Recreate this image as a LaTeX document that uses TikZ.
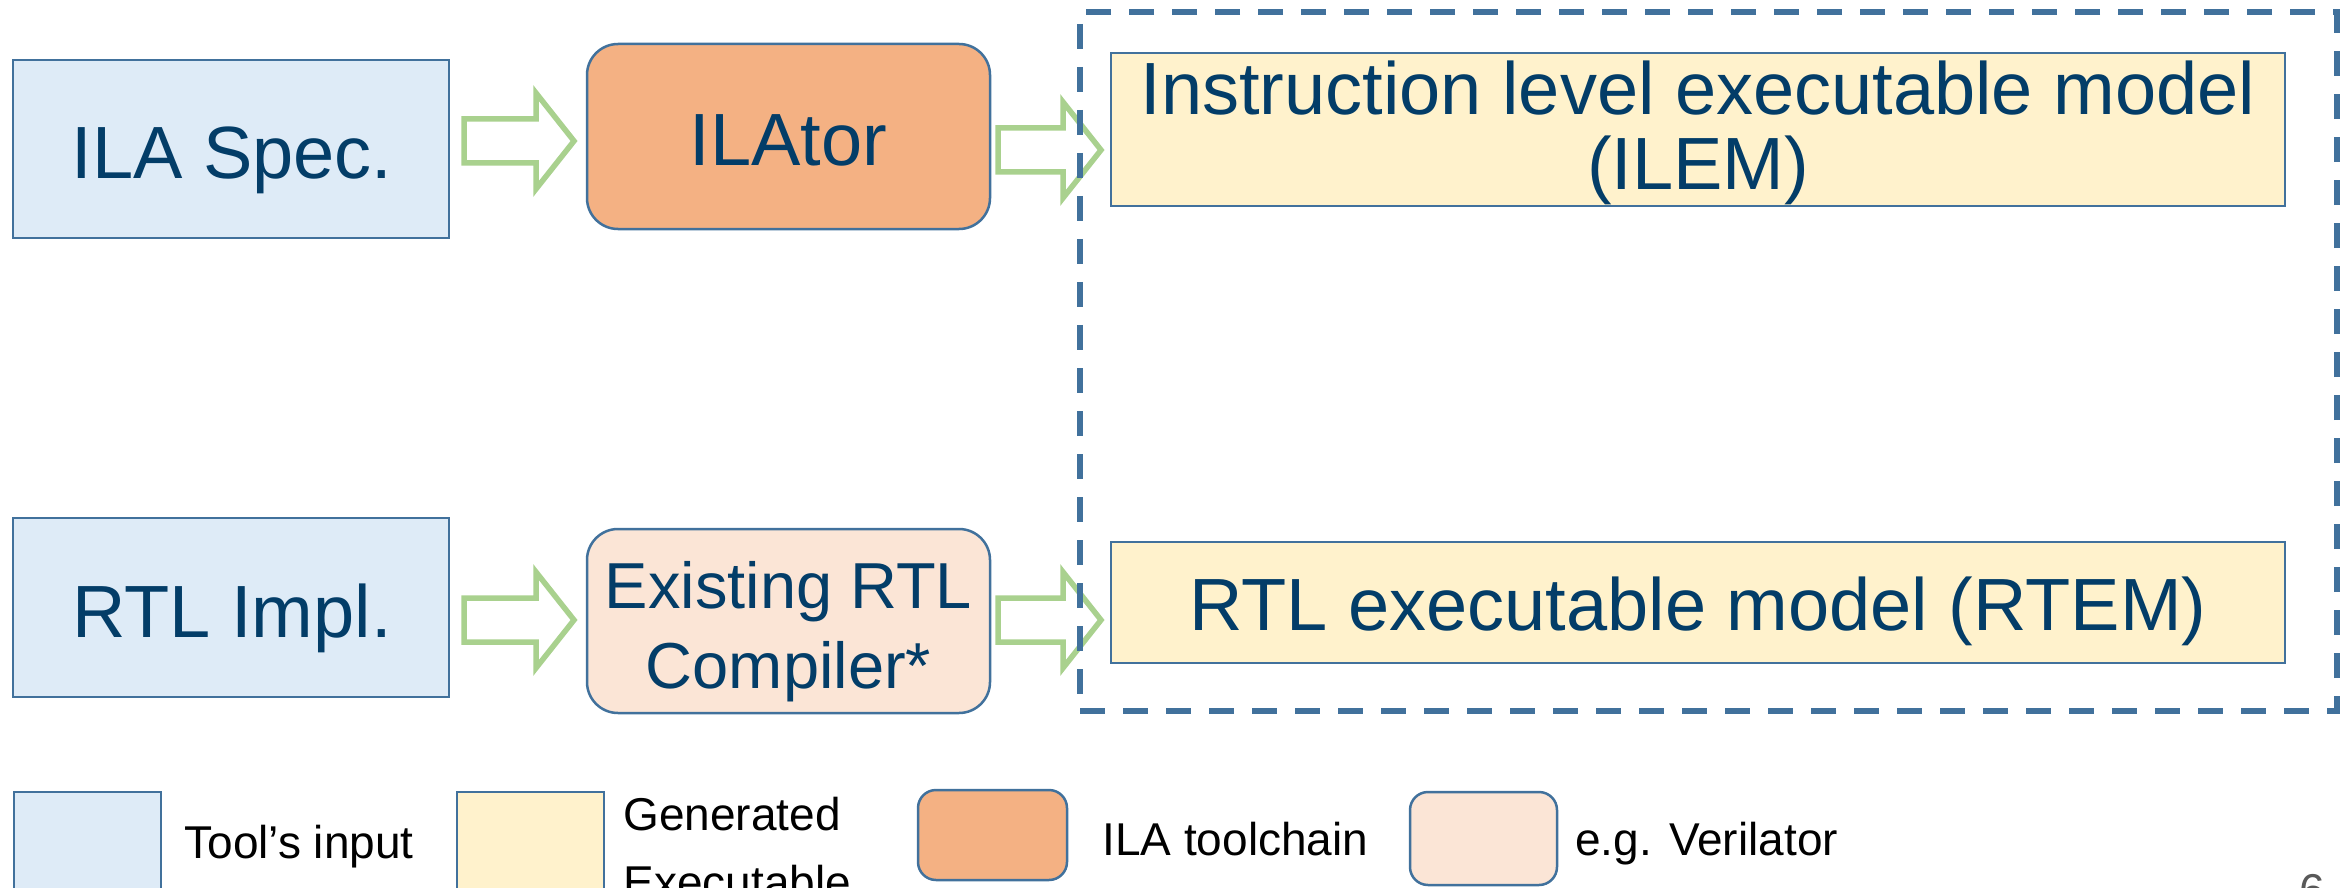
\documentclass[tikz,border=0pt]{standalone}
\usepackage{fontspec}
\setmainfont{Liberation Sans}
\usetikzlibrary{calc}
\definecolor{bordc}{HTML}{41719C}
\definecolor{inblue}{HTML}{DEEBF7}
\definecolor{genyel}{HTML}{FFF2CC}
\definecolor{ilaor}{HTML}{F4B183}
\definecolor{verpk}{HTML}{FBE5D6}
\definecolor{arrgr}{HTML}{A9D18E}
\definecolor{txtblue}{HTML}{033D68}
\definecolor{pgnum}{HTML}{595959}
\newcommand\blockarr[5]{%
  \draw[barrow] let \p1=(#1.east), \p2=(#2.west) in
    ({\x1+#4pt},{-0.5pt*#3+11pt}) -- ({\x2-#5pt-19pt},{-0.5pt*#3+11pt}) --
    ({\x2-#5pt-19pt},{-0.5pt*#3+24pt}) -- ({\x2-#5pt},{-0.5pt*#3}) --
    ({\x2-#5pt-19pt},{-0.5pt*#3-24pt}) -- ({\x2-#5pt-19pt},{-0.5pt*#3-11pt}) --
    ({\x1+#4pt},{-0.5pt*#3-11pt}) -- cycle;}
\begin{document}
\begin{tikzpicture}[x=0.5pt,y=-0.5pt,
  box/.style={draw=bordc, line width=1.25pt, inner sep=0pt, outer sep=0pt},
  sqbox/.style={box, rectangle},
  rbox/.style={box, rounded corners=15.5pt},
  bigtxt/.style={font=\fontsize{37}{37.5}\selectfont, text=txtblue, inner sep=0pt, align=center},
  midtxt/.style={font=\fontsize{32.5}{40}\selectfont, text=txtblue, inner sep=0pt, align=center},
  legtxt/.style={font=\fontsize{23}{34}\selectfont, text=black, inner sep=0pt, align=left},
  barrow/.style={draw=arrgr, fill=white, line width=2.75pt, line join=miter},
  genframe/.style={draw=bordc, line width=2.75pt, dash pattern=on 12.3pt off 9.2pt, inner sep=0pt}
]
\useasboundingbox (0,0) rectangle (2351,888);
% main boxes
\node[sqbox, fill=inblue, minimum width=218pt, minimum height=89pt] (spec) at (231,149) {};
\node[rbox, fill=ilaor, minimum width=201.5pt, minimum height=92.5pt] (ilator) at (788.5,136.5) {};
\node[sqbox, fill=genyel, minimum width=587pt, minimum height=76.5pt] (ilem) at (1698,129.5) {};
\node[sqbox, fill=inblue, minimum width=218pt, minimum height=89.5pt] (rtl) at (231,607.5) {};
\node[rbox, fill=verpk, minimum width=201.5pt, minimum height=92pt] (comp) at (788.5,621) {};
\node[sqbox, fill=genyel, minimum width=587pt, minimum height=60.5pt] (rtem) at (1698,602.5) {};
% texts
\node[bigtxt, anchor=base] (spec-t) at (232,178) {ILA Spec.};
\node[bigtxt, anchor=base] (ilator-t) at (788.5,165) {ILAtor};
\node[bigtxt, anchor=north] (ilem-t) at (1698,60) {Instruction level executable model\\(ILEM)};
\node[bigtxt, anchor=base] (rtl-t) at (232,637) {RTL Impl.};
\node[midtxt, anchor=north] (comp-t) at (788.5,560.5) {Existing RTL\\Compiler*};
\node[bigtxt, anchor=base] (rtem-t) at (1698,630) {RTL executable model (RTEM)};
% block arrows
\blockarr{spec}{ilator}{141}{7.5}{6.5}
\blockarr{ilator}{ilem}{150}{4}{5}
\blockarr{rtl}{comp}{620}{7.5}{6.5}
\blockarr{comp}{rtem}{620}{4}{5}
% dashed frame
\node[genframe, minimum width=628.5pt, minimum height=349.5pt] (gen) at (1708.5,361.5) {};
% legend
\node[sqbox, fill=inblue, minimum width=73.5pt, minimum height=84pt] (lg1) at (87.5,876) {};
\node[legtxt, anchor=base west] (lg1-t) at (184,858) {Tool’s input};
\node[sqbox, fill=genyel, minimum width=73.5pt, minimum height=84pt] (lg2) at (530.5,876) {};
\node[legtxt, anchor=north west] (lg2-t) at (623,797) {Generated\\Executable};
\node[rbox, rounded corners=9pt, fill=ilaor, minimum width=74.5pt, minimum height=45pt] (lg3) at (992.5,835) {};
\node[legtxt, anchor=base west] (lg3-t) at (1102,855) {ILA toolchain};
\node[rbox, rounded corners=9pt, fill=verpk, minimum width=73.5pt, minimum height=46.5pt] (lg4) at (1483.5,838.5) {};
\node[legtxt, anchor=base west] (lg4-t) at (1575,855) {e.g. Verilator};
\node[font=\fontsize{23}{28}\selectfont, text=pgnum, anchor=base west, inner sep=0pt] (pg) at (2299,906) {6};
\end{tikzpicture}
\end{document}
